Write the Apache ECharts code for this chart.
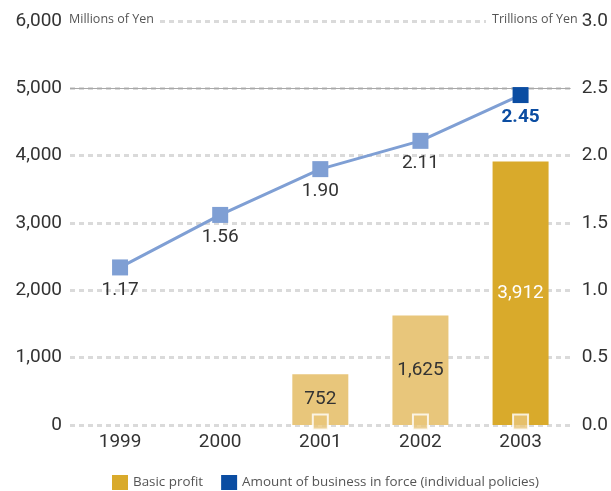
<!DOCTYPE html>
<html>
<head>
<meta charset="utf-8">
<script src="https://cdn.jsdelivr.net/npm/echarts@6/dist/echarts.min.js"></script>
<style>
  html, body { margin: 0; padding: 0; background: #fff; }
  #chart { width: 611px; height: 491px; }
</style>
</head>
<body>
<div id="chart"></div>
<script>
// Fiscal years on the category axis
const years = ['1999', '2000', '2001', '2002', '2003'];
// Basic profit, millions of yen (no figure before 2001)
const basicProfit = [null, null, 752, 1625, 3912];
// Amount of business in force (individual policies), trillions of yen
const businessInForce = [1.17, 1.56, 1.90, 2.11, 2.45];
// Axis ticks
const leftTicks = { min: 0, max: 6000, interval: 1000 };
const rightTicks = { min: 0, max: 3.0, interval: 0.5 };

const LIGHT_GOLD = '#E8C67B';
const DARK_GOLD = '#D9AA2B';
const LINE_BLUE = '#7F9FD4';
const DARK_BLUE = '#0B4DA2';
const NUM_FONT = 'Roboto, "Noto Sans", sans-serif';
const TEXT_FONT = '"Open Sans", "Noto Sans", sans-serif';
const NUM_SIZE = 19;

const lastIdx = basicProfit.length - 1;

const barData = basicProfit.map((v, i) => {
  if (v == null) return null;
  const latest = i === lastIdx;
  return {
    value: v,
    itemStyle: { color: latest ? DARK_GOLD : LIGHT_GOLD },
    label: { color: latest ? '#ffffff' : '#333333' }
  };
});

// small base markers under each bar
const baseMarks = basicProfit.map(v => (v == null ? null : 0));

const lineData = businessInForce.map((v, i) => {
  if (i !== lastIdx) return v;
  return {
    value: v,
    itemStyle: { color: DARK_BLUE },
    label: { color: DARK_BLUE, fontWeight: 'bold' }
  };
});

const gridLine = { show: true, lineStyle: { color: '#DADADA', width: 3, type: [5, 4] } };

const chart = echarts.init(document.getElementById('chart'), null, { renderer: 'canvas' });
chart.setOption({
  animation: false,
  backgroundColor: '#ffffff',
  grid: { left: 70, right: 39, top: 21, bottom: 66, containLabel: false },
  legend: {
    top: 470,
    left: 107,
    icon: 'rect',
    itemWidth: 16,
    itemHeight: 15,
    itemGap: 18,
    textStyle: { fontFamily: TEXT_FONT, fontSize: 13.4, color: '#555555' },
    data: [
      { name: 'Basic profit', itemStyle: { color: DARK_GOLD } },
      { name: 'Amount of business in force (individual policies)', itemStyle: { color: DARK_BLUE } }
    ]
  },
  xAxis: {
    type: 'category',
    data: years,
    axisLine: { show: false },
    axisTick: { show: false },
    axisLabel: { fontFamily: NUM_FONT, fontSize: NUM_SIZE, color: '#333333', margin: 8 }
  },
  yAxis: [
    {
      type: 'value',
      min: leftTicks.min, max: leftTicks.max, interval: leftTicks.interval,
      axisLine: { show: false },
      axisTick: { show: false },
      splitLine: gridLine,
      axisLabel: {
        fontFamily: NUM_FONT, fontSize: NUM_SIZE, color: '#333333', margin: 8,
        formatter: v => v.toLocaleString('en-US')
      }
    },
    {
      type: 'value',
      min: rightTicks.min, max: rightTicks.max, interval: rightTicks.interval,
      axisLine: { show: false },
      axisTick: { show: false },
      splitLine: { show: false },
      axisLabel: {
        fontFamily: NUM_FONT, fontSize: NUM_SIZE, color: '#333333', margin: 11,
        formatter: v => v.toFixed(1)
      }
    }
  ],
  graphic: [
    {
      type: 'text', left: 67, top: 13, z: 100,
      style: {
        text: 'Millions of Yen', font: '12.5px ' + TEXT_FONT, fill: '#555555',
        backgroundColor: '#ffffff', padding: [0, 6, 0, 2]
      }
    },
    {
      type: 'text', left: 486, top: 13, z: 100,
      style: {
        text: 'Trillions of Yen', font: '12.5px ' + TEXT_FONT, fill: '#555555',
        backgroundColor: '#ffffff', padding: [0, 4, 0, 6]
      }
    }
  ],
  series: [
    {
      name: 'Basic profit',
      type: 'bar',
      yAxisIndex: 0,
      barWidth: 56,
      z: 2,
      itemStyle: { color: DARK_GOLD },
      label: {
        show: true, position: 'inside', fontFamily: NUM_FONT, fontSize: NUM_SIZE,
        formatter: p => Number(p.value).toLocaleString('en-US')
      },
      data: barData,
      markLine: {
        silent: true,
        symbol: 'none',
        z: 1,
        label: { show: false },
        lineStyle: { color: '#A8A8A8', width: 1, type: 'solid' },
        data: [{ yAxis: 5000 }]
      }
    },
    {
      name: 'base',
      type: 'scatter',
      yAxisIndex: 0,
      symbol: 'rect',
      symbolSize: 15,
      symbolOffset: [0, -3],
      z: 3,
      itemStyle: { color: LIGHT_GOLD, borderColor: '#ffffff', borderWidth: 2 },
      data: baseMarks
    },
    {
      name: 'Amount of business in force (individual policies)',
      type: 'line',
      yAxisIndex: 1,
      symbol: 'rect',
      symbolSize: 16,
      z: 5,
      lineStyle: { color: LINE_BLUE, width: 3 },
      itemStyle: { color: LINE_BLUE },
      label: {
        show: true, position: 'bottom', distance: 5,
        fontFamily: NUM_FONT, fontSize: NUM_SIZE, color: '#333333',
        formatter: p => Number(p.value).toFixed(2)
      },
      data: lineData
    }
  ]
});
</script>
</body>
</html>
